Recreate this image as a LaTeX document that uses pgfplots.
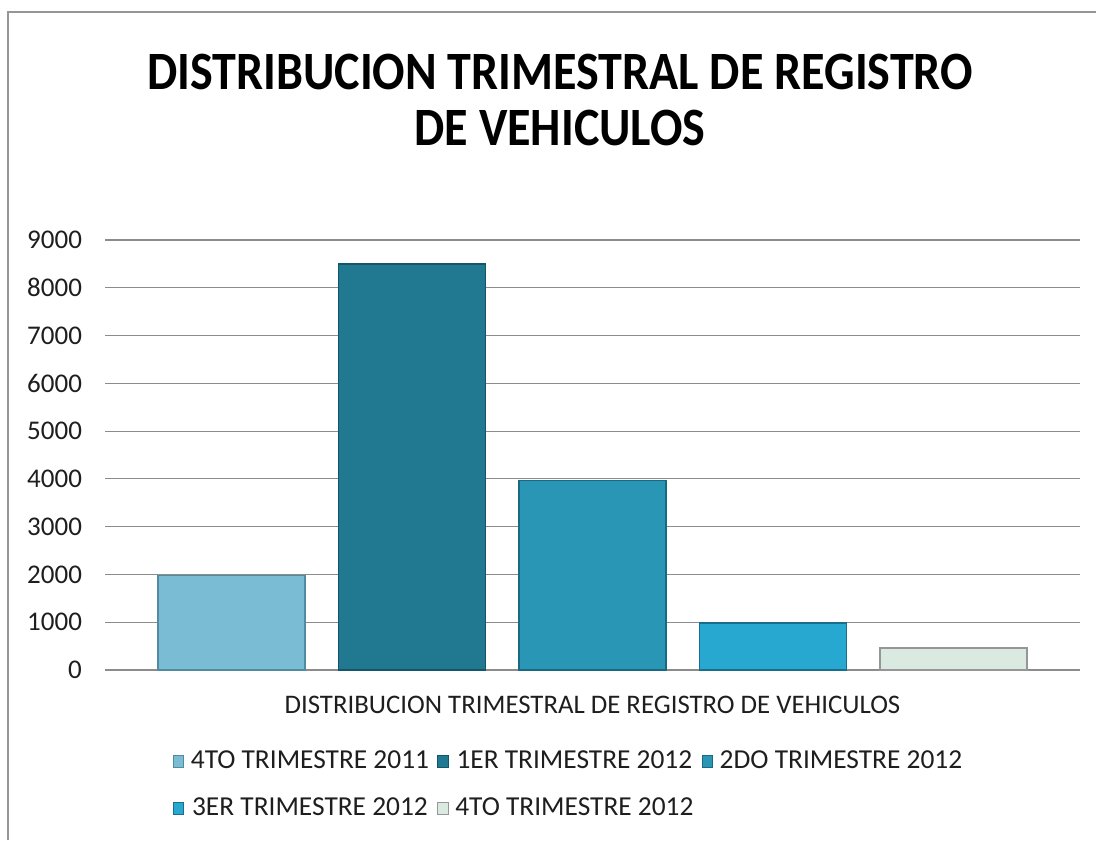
\documentclass[border=0pt]{standalone}
\usepackage{pgfplots}
\pgfplotsset{compat=1.18}
\usepackage{fontspec}
\setmainfont{Carlito}
\definecolor{cA}{RGB}{122,188,212}
\definecolor{cAe}{RGB}{80,140,160}
\definecolor{cB}{RGB}{32,120,145}
\definecolor{cBe}{RGB}{20,85,105}
\definecolor{cC}{RGB}{40,150,180}
\definecolor{cCe}{RGB}{25,105,130}
\definecolor{cD}{RGB}{38,168,208}
\definecolor{cDe}{RGB}{25,110,140}
\definecolor{cE}{RGB}{218,234,225}
\definecolor{cEe}{RGB}{150,150,150}
\definecolor{txt}{RGB}{30,30,30}
\begin{document}
\begin{tikzpicture}
\useasboundingbox (0,0) rectangle (548pt,420pt);
\draw[draw={rgb,255:red,150;green,150;blue,150}, line width=0.8pt] (4pt,0pt) -- (4pt,414pt) -- (548pt,414pt);
\node[font=\fontsize{27}{31}\selectfont\bfseries, anchor=base, inner sep=0pt] at (280pt,375pt) {\scalebox{0.89}[1]{DISTRIBUCION TRIMESTRAL DE REGISTRO}};
\node[font=\fontsize{27}{31}\selectfont\bfseries, anchor=base, inner sep=0pt] at (280pt,347pt) {\scalebox{0.89}[1]{DE VEHICULOS}};
\begin{axis}[
  at={(52.5pt,85pt)}, anchor=south west,
  scale only axis, width=487.5pt, height=215pt,
  xmin=-0.7, xmax=4.7, ymin=0, ymax=9000,
  ytick={0,1000,...,9000},
  xtick=\empty,
  ymajorgrids,
  grid style={draw={rgb,255:red,140;green,140;blue,140}, line width=0.6pt},
  axis line style={draw=none},
  major tick length=0pt,
  ticklabel style={font=\fontsize{13.5}{15}\selectfont, text=txt},
  yticklabel style={xshift=-8pt},
  /pgf/number format/assume math mode=true,
  scaled y ticks=false,
  yticklabel={\pgfmathprintnumber[fixed,1000 sep={}]{\tick}},
  xlabel={DISTRIBUCION TRIMESTRAL DE REGISTRO DE VEHICULOS},
  xlabel style={at={(axis description cs:0.5,-0.045)}, anchor=north, font=\fontsize{13.4}{15}\selectfont, text=txt},
  ybar,
  every axis plot/.append style={bar shift=0pt, bar width=0.815, line width=0.8pt},
  legend columns=3,
  legend style={draw=none, fill=none, at={(axis description cs:0.069,-0.183)}, anchor=north west,
    font=\fontsize{13.7}{16}\selectfont, text=txt, column sep=0pt, row sep=11pt, inner sep=0pt,
    nodes={inner sep=1pt},
    /tikz/every odd column/.append style={column sep=2.5pt},
    /tikz/every even column/.append style={column sep=3pt}},
  legend image code/.code={\draw[#1, line width=0.4pt] (0pt,-3pt) rectangle (5.2pt,3pt);},
]
\addplot[fill=cA, draw=cAe] coordinates {(0,1980)};
\addplot[fill=cB, draw=cBe] coordinates {(1,8500)};
\addplot[fill=cC, draw=cCe] coordinates {(2,3970)};
\addplot[fill=cD, draw=cDe] coordinates {(3,980)};
\addplot[fill=cE, draw=cEe] coordinates {(4,460)};
\legend{4TO TRIMESTRE 2011,1ER TRIMESTRE 2012,2DO TRIMESTRE 2012,3ER TRIMESTRE 2012,4TO TRIMESTRE 2012}
\end{axis}
\end{tikzpicture}
\end{document}
